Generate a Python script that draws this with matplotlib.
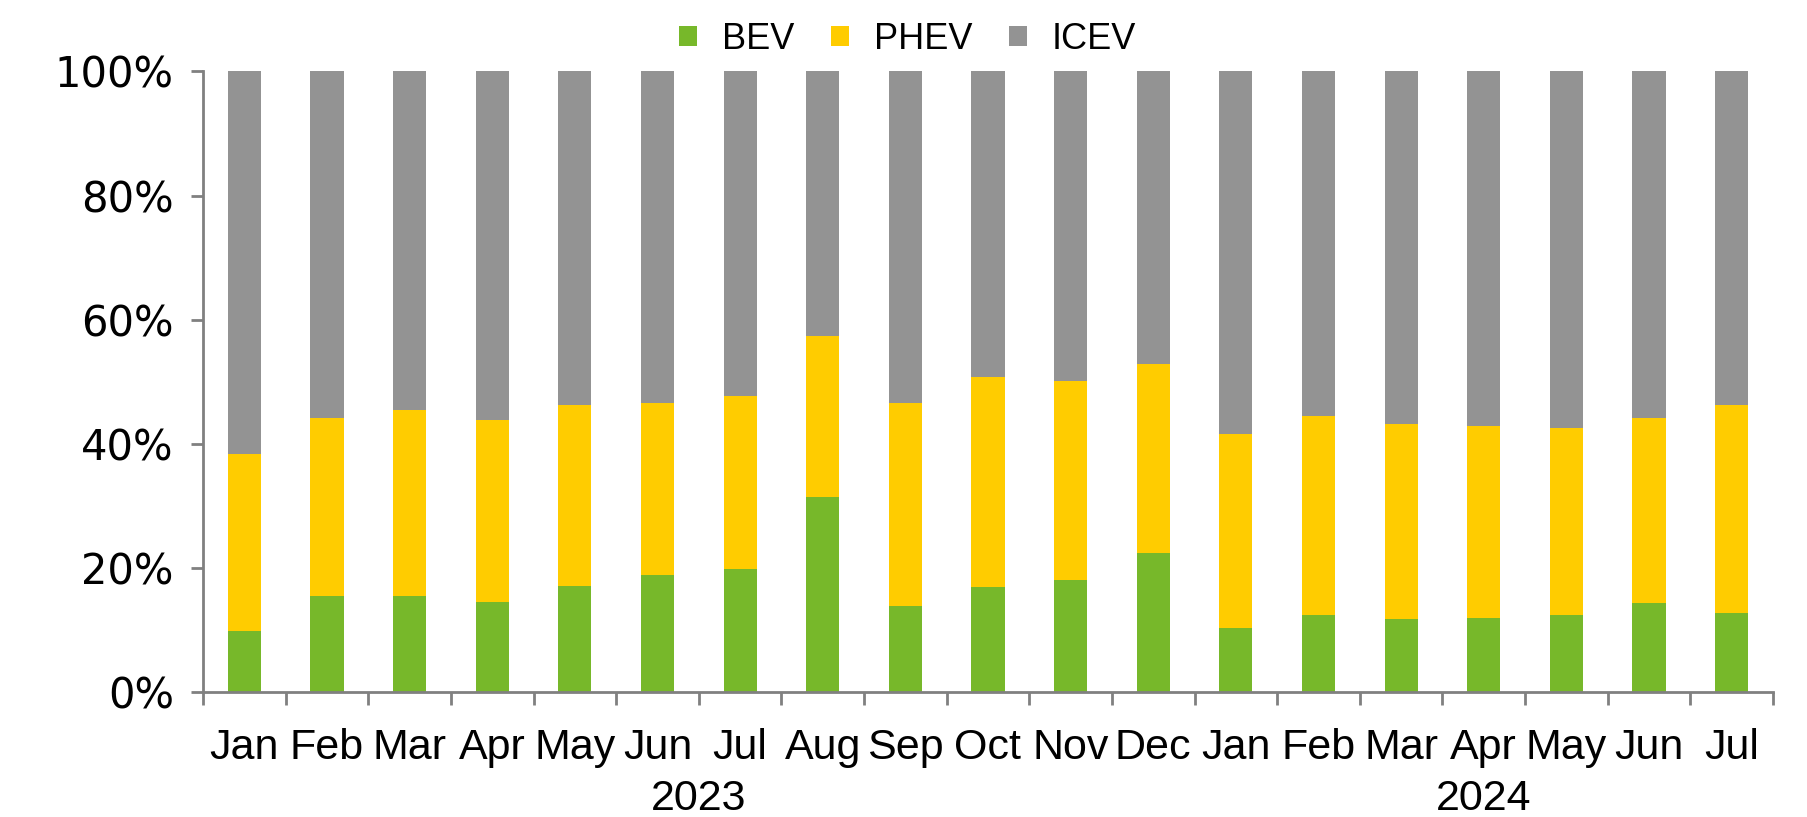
import matplotlib
matplotlib.use("Agg")
import matplotlib.pyplot as plt
import numpy as np
from matplotlib.ticker import FixedLocator, PercentFormatter

months = ["Jan", "Feb", "Mar", "Apr", "May", "Jun", "Jul", "Aug", "Sep", "Oct", "Nov", "Dec",
          "Jan", "Feb", "Mar", "Apr", "May", "Jun", "Jul"]
years = ["2023", "2024"]
bev = [9.9, 15.5, 15.5, 14.5, 17.1, 18.8, 19.8, 31.4, 13.9, 16.9, 18.1, 22.4,
       10.35, 12.4, 11.7, 12.0, 12.4, 14.4, 12.8]
bev_phev = [38.3, 44.2, 45.4, 43.8, 46.2, 46.6, 47.7, 57.4, 46.5, 50.7, 50.2, 52.8,
            41.5, 44.4, 43.2, 42.9, 42.6, 44.1, 46.3]
phev = [t - b for t, b in zip(bev_phev, bev)]
icev = [100 - t for t in bev_phev]

GREEN = "#77B82A"
YELLOW = "#FFCC00"
GRAY = "#939393"
AXIS = "#808080"

lab = ["Liberation Sans", "DejaVu Sans"]

fig = plt.figure(figsize=(18.08, 8.17), dpi=100)
ax = fig.add_axes([0.1123, 0.153, 0.8683, 0.7595])

x = np.arange(len(months))
w = 0.4
ax.bar(x, bev, w, color=GREEN, label="BEV")
ax.bar(x, phev, w, bottom=bev, color=YELLOW, label="PHEV")
ax.bar(x, icev, w, bottom=bev_phev, color=GRAY, label="ICEV")

ax.set_xlim(-0.5, len(months) - 0.5)
ax.set_ylim(0, 100)
ax.set_yticks(np.arange(0, 101, 20))
ax.yaxis.set_major_formatter(PercentFormatter(decimals=0))
for t in ax.get_yticklabels():
    t.set_family("DejaVu Sans")

ax.set_xticks(x)
ax.set_xticklabels(months, family=lab, fontsize=31)
ax.xaxis.set_minor_locator(FixedLocator(np.arange(-0.5, len(months), 1.0)))
ax.tick_params(axis="x", which="major", length=0, pad=26)
ax.tick_params(axis="x", which="minor", length=9, width=2, color=AXIS, direction="out")
ax.tick_params(axis="y", which="major", length=9, width=2, color=AXIS, labelsize=30, pad=12)

for s in ["top", "right"]:
    ax.spines[s].set_visible(False)
for s in ["left", "bottom"]:
    ax.spines[s].set_color(AXIS)
    ax.spines[s].set_linewidth(2)

ax.text(5.5, -0.19, years[0], transform=ax.get_xaxis_transform(), ha="center", va="baseline",
        family=lab, fontsize=31)
ax.text(15.0, -0.19, years[1], transform=ax.get_xaxis_transform(), ha="center", va="baseline",
        family=lab, fontsize=31)

leg = fig.legend(loc="center", bbox_to_anchor=(0.502, 0.952), ncol=3, frameon=False,
                 prop={"family": lab, "size": 26}, handlelength=0.5, handleheight=0.5,
                 handletextpad=0.7, columnspacing=1.0)

fig.savefig("out.png", dpi=100)
